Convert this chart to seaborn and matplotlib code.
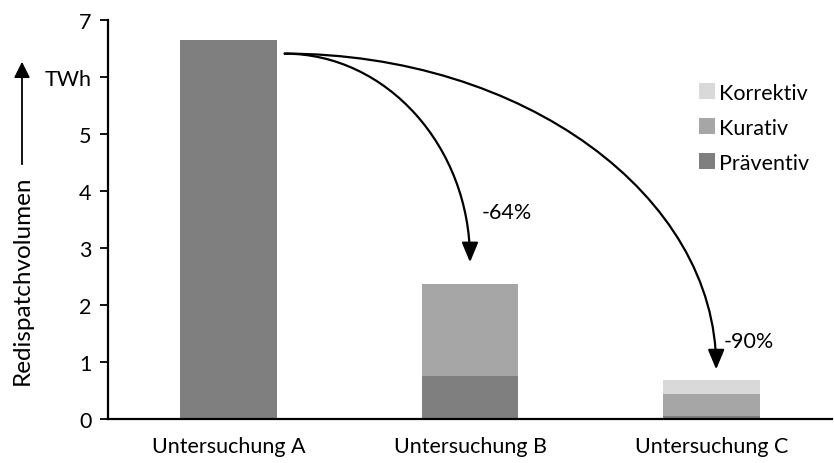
import matplotlib
matplotlib.use("Agg")
import matplotlib.pyplot as plt
import seaborn as sns
import pandas as pd
import numpy as np
from matplotlib.patches import Patch, FancyArrowPatch
from matplotlib.path import Path

# Redispatch volume per study, split by measure type (TWh)
studies = ["Untersuchung A", "Untersuchung B", "Untersuchung C"]
praeventiv = [6.65, 0.75, 0.05]
kurativ = [0.00, 1.61, 0.39]
korrektiv = [0.00, 0.00, 0.24]
reduction_labels = ["-64%", "-90%"]

series_names = ["Präventiv", "Kurativ", "Korrektiv"]
series_colors = ["#7f7f7f", "#a6a6a6", "#d9d9d9"]

y_ticks = [0, 1, 2, 3, 4, 5, 6, 7]
y_tick_labels = ["0", "1", "2", "3", "4", "5", "TWh", "7"]

FS = 15.5

sns.set_theme(style="white")
plt.rcParams["font.family"] = ["Lato", "DejaVu Sans"]

W, H = 834, 464
fig = plt.figure(figsize=(W / 100, H / 100), dpi=100)
ax = fig.add_axes([108 / W, 1 - 420 / H, 724 / W, 399 / H])

# Stacked bars: draw cumulative totals from the top layer down
layers = [praeventiv, kurativ, korrektiv]
cum = np.cumsum(np.array(layers), axis=0)
for i in range(len(layers) - 1, -1, -1):
    df = pd.DataFrame({"study": studies, "value": cum[i]})
    sns.barplot(data=df, x="study", y="value", color=series_colors[i],
                saturation=1, width=0.4, ax=ax, edgecolor="none", linewidth=0)

ax.set_xlim(-0.5, 2.5)
ax.set_ylim(0, 7)
ax.set_yticks(y_ticks)
ax.set_yticklabels(y_tick_labels)
ax.set_xlabel("")
ax.set_ylabel("")
for s in ["top", "right"]:
    ax.spines[s].set_visible(False)
for s in ["left", "bottom"]:
    ax.spines[s].set_color("black")
    ax.spines[s].set_linewidth(1.6)
ax.tick_params(axis="y", which="major", direction="out", length=6, width=1.3,
               color="black", left=True, labelsize=FS, pad=6, labelcolor="black")
ax.tick_params(axis="x", length=0, labelsize=FS, pad=12, labelcolor="black")

# Reduction arrows: quarter-ellipse curves from the top of study A
start = (0.232, 6.41)
targets = [(1.0, 2.75), (2.02, 0.87)]
label_pos = [(1.05, 3.64), (2.05, 1.37)]
k = 0.552
for (tx, ty), lab, (lx, ly) in zip(targets, reduction_labels, label_pos):
    sx, sy = start
    verts = [(sx, sy), (sx + k * (tx - sx), sy), (tx, ty + k * (sy - ty)), (tx, ty)]
    path = Path(verts, [Path.MOVETO, Path.CURVE4, Path.CURVE4, Path.CURVE4])
    ax.add_patch(FancyArrowPatch(path=path,
                                 arrowstyle="-|>,head_length=12,head_width=5",
                                 color="black", lw=1.6, mutation_scale=1))
    ax.text(lx, ly, lab, fontsize=FS, ha="left", va="center", color="black")

# Legend
handles = [Patch(facecolor=series_colors[i], edgecolor="none", label=series_names[i])
           for i in range(len(series_names) - 1, -1, -1)]
leg = fig.legend(handles=handles, loc="upper left",
                 bbox_to_anchor=(690 / W, 1 - 75 / H), frameon=False,
                 fontsize=FS, handlelength=0.75, handleheight=0.75,
                 handletextpad=0.2, labelspacing=0.7, borderaxespad=0)
for t in leg.get_texts():
    t.set_color("black")

# Y axis title with upward arrow
fig.text(22 / W, 1 - 280 / H, "Redispatchvolumen", rotation=90, ha="center",
         va="center", fontsize=17.5, color="black")
fig.add_artist(FancyArrowPatch(
    (22 / W, 1 - 168 / H), (22 / W, 1 - 60 / H), transform=fig.transFigure,
    arrowstyle="-|>,head_length=6,head_width=3", mutation_scale=1.6,
    color="black", lw=1.3))

fig.savefig("out.png", dpi=100)
